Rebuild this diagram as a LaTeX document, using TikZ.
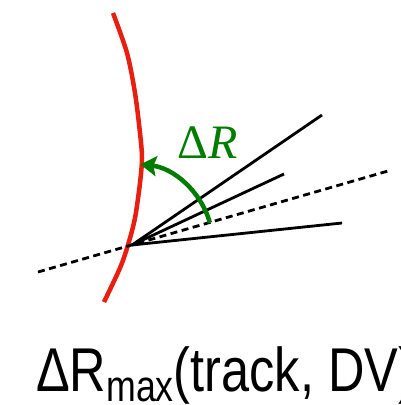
\documentclass[tikz,border=0pt]{standalone}
\usepackage{fontspec}
\usepackage{tikz}
\usetikzlibrary{arrows.meta}
\newfontfamily\labelfont{Liberation Sans}
\newfontfamily\anglefont{Liberation Serif}
\definecolor{arcgreen}{RGB}{0,125,0}
\definecolor{trackred}{RGB}{232,30,16}

\begin{document}
\begin{tikzpicture}[x=1pt, y=-1pt, >={Stealth[length=16pt, width=20pt, inset=3pt]},
    track/.style={line width=2.8pt},
    axisline/.style={line width=2.8pt, dash pattern=on 7pt off 4.5pt},
    surface/.style={trackred, line width=4.5pt},
    sweep/.style={->, arcgreen, line width=4.5pt},
    lbl/.style={inner sep=0pt, anchor=base west}]
  \clip (0,0) rectangle (400,405);
  % displaced vertex and track ends
  \coordinate (dv) at (132,245);
  \coordinate (t1) at (322,115);
  \coordinate (t2) at (284,174);
  \coordinate (t3) at (342,223);
  \coordinate (axL) at (38,272);
  \coordinate (axR) at (388,171);
  \draw[surface] plot[smooth] coordinates
    {(113,13) (127,53) (135,93) (140,133) (142,158) (140,183) (135,218)
     (128,245) (120,268) (104,302)};
  \draw[axisline] (axL) -- (axR);
  \draw[track] (dv) -- (t1);
  \draw[track] (dv) -- (t2);
  \draw[track] (dv) -- (t3);
  \draw[sweep] ([shift={(-16:81)}]dv) arc[start angle=-16, end angle=-84, radius=81];
  \node[lbl, text=arcgreen] (dr) at (177,158)
    {\anglefont\fontsize{48}{48}\selectfont Δ\itshape R};
  \node[lbl] (title) at (36,391)
    {\scalebox{1.02}[1.25]{\labelfont\fontsize{49.5}{50}\selectfont
      ΔR\raisebox{-8pt}{\fontsize{35}{35}\selectfont max}(track, DV)}};
\end{tikzpicture}
\end{document}
